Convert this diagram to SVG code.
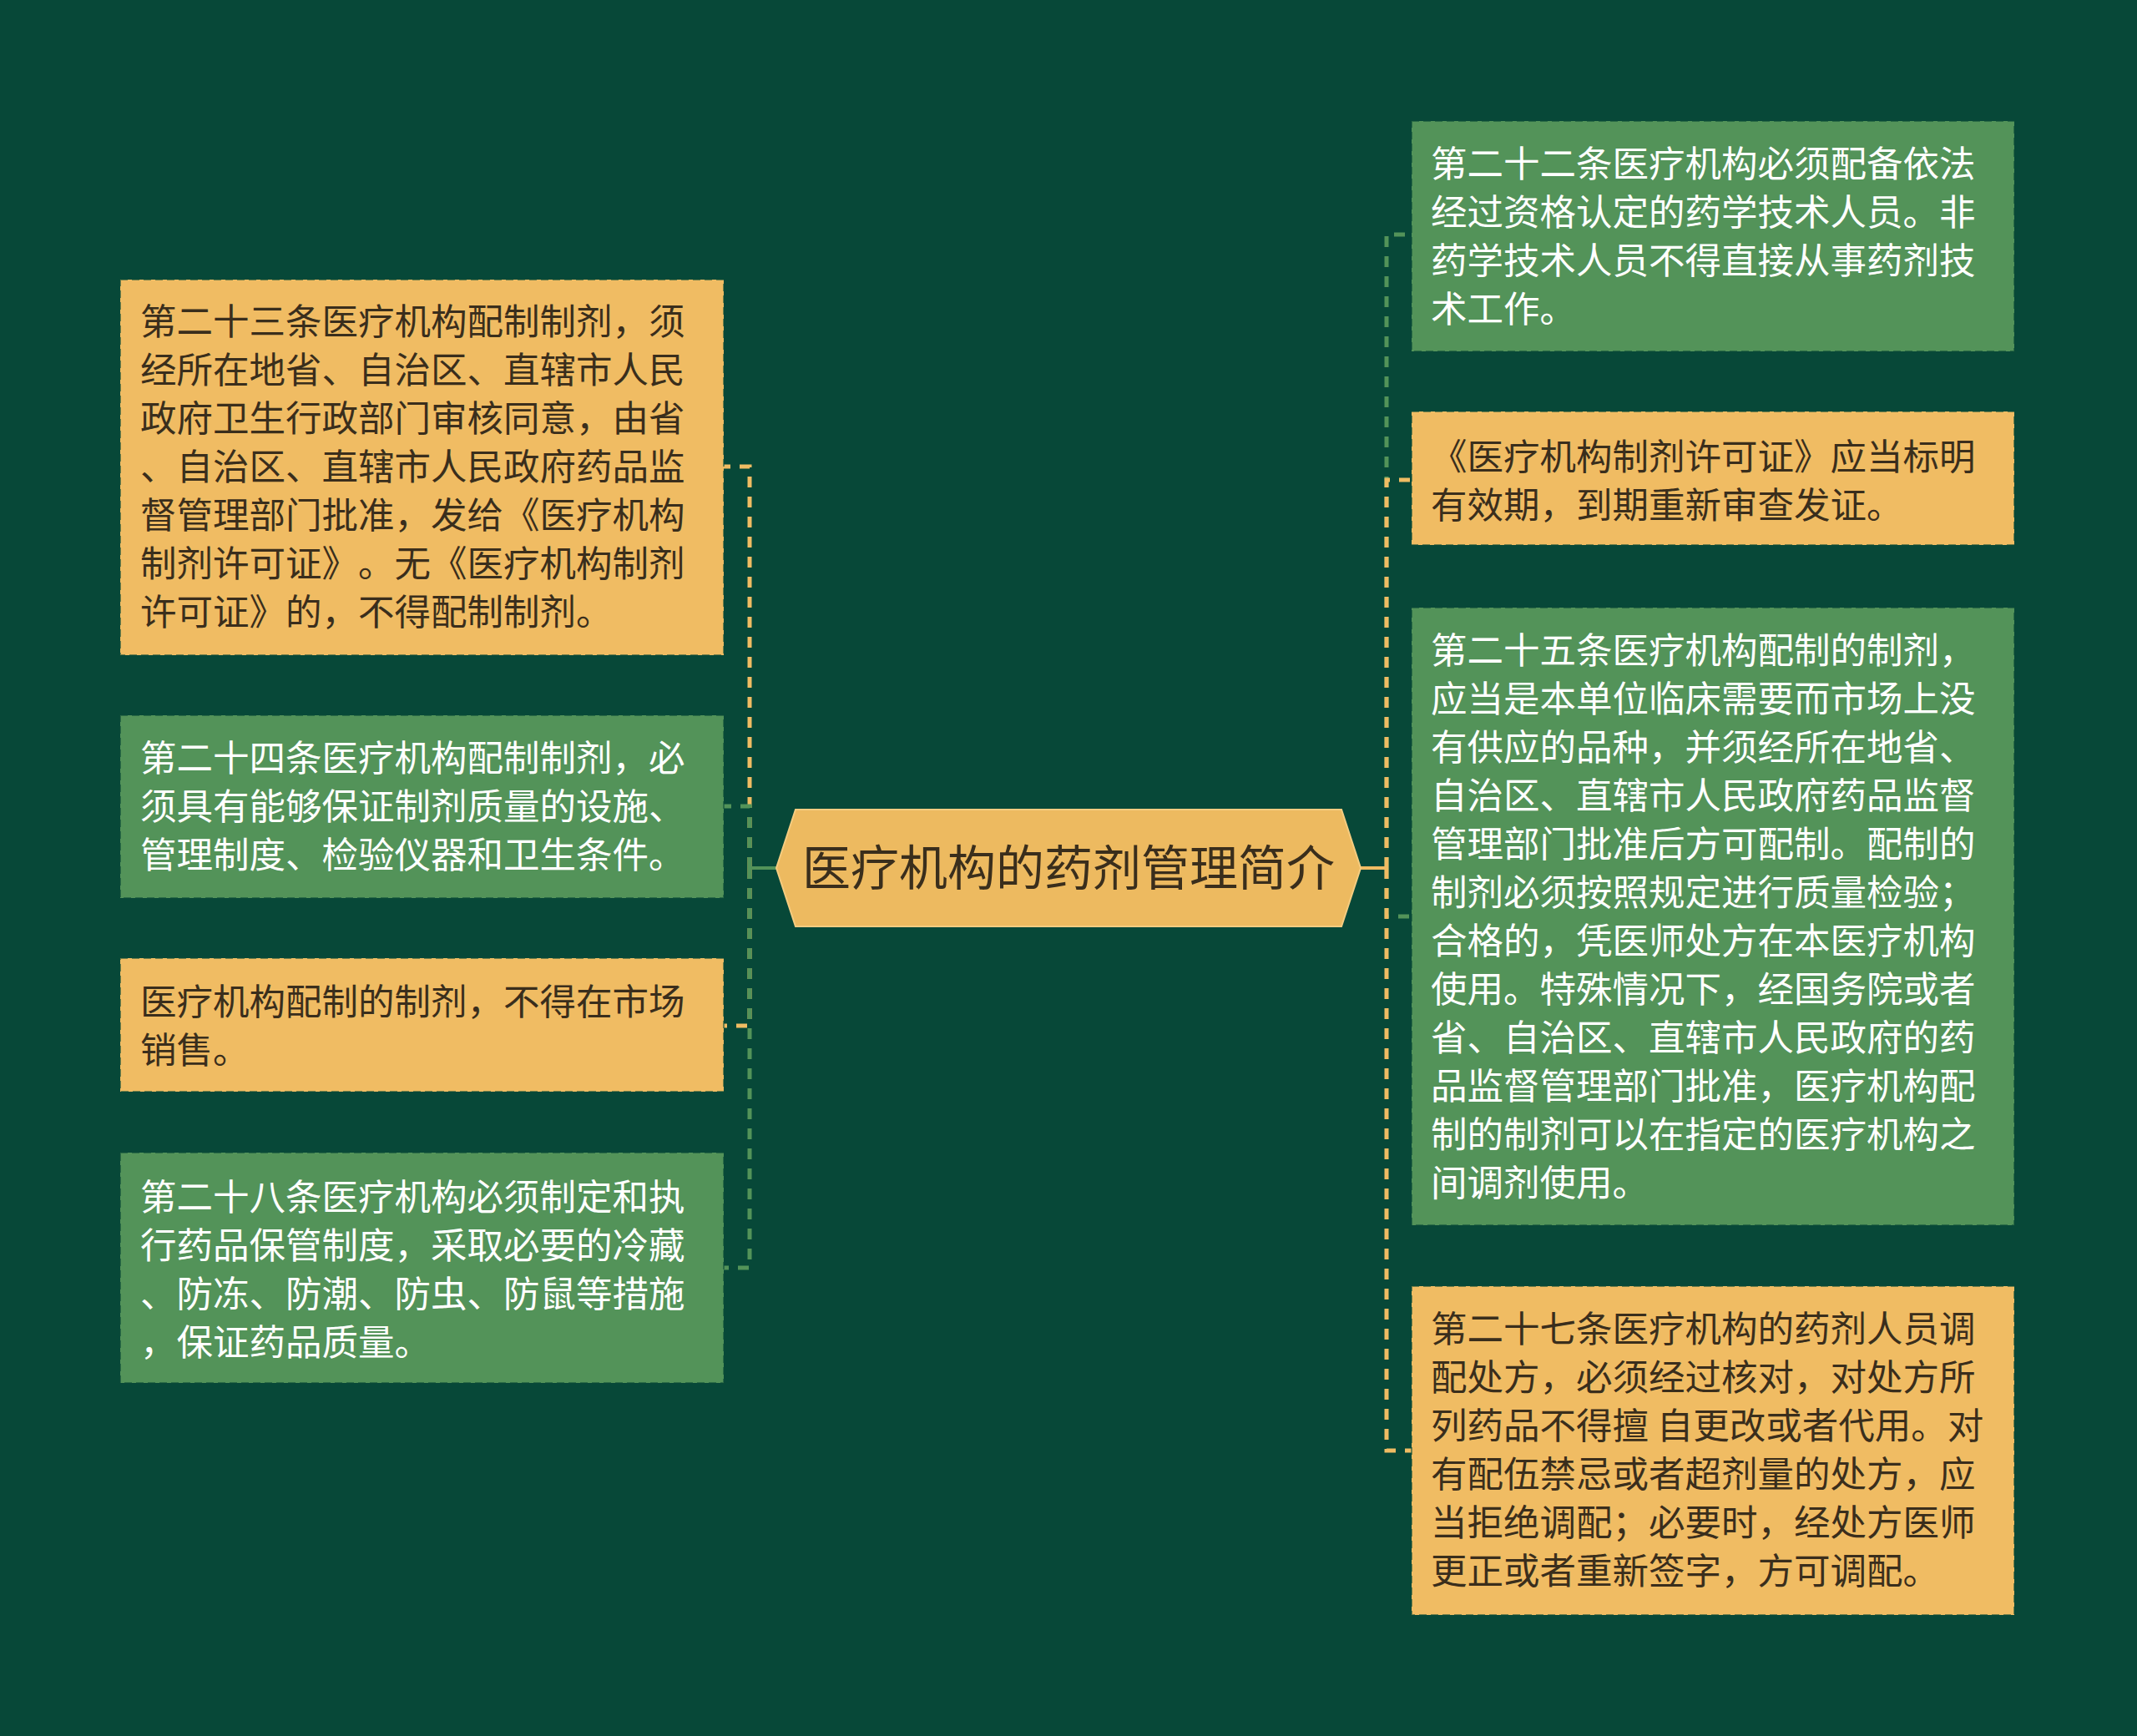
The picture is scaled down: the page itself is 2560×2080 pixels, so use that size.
<svg xmlns="http://www.w3.org/2000/svg" width="2560" height="2080" viewBox="0 0 2560 2080">
<style>
.bg{fill:#074838}
.o{fill:#F0BC63;stroke:#0b4a36;stroke-opacity:0.55;stroke-width:2;stroke-dasharray:9 5}
.g{fill:#539359;stroke:#0b4a36;stroke-opacity:0.55;stroke-width:2;stroke-dasharray:9 5}
text{font-family:"Noto Sans CJK SC","Noto Sans",sans-serif;text-spacing-trim:space-all;font-kerning:none}
.t{font-size:43.5px}
.title{font-size:58px;fill:#3a2e1c}
.td{fill:#3a2e1c}
.tw{fill:#ffffff}
.co{fill:none;stroke:#F0BC63;stroke-width:5;stroke-dasharray:13 11}
.cg{fill:none;stroke:#539359;stroke-width:5;stroke-dasharray:13 11}
</style>
<rect class="bg" x="0" y="0" width="2560" height="2080"/>
<g id="connectors">
<path class="co" d="M898,1040 V559 H867"/>
<path class="cg" d="M898,1040 V966 H867"/>
<path class="co" d="M898,1040 V1229 H867"/>
<path class="cg" d="M898,1040 V1519 H867"/>
<path d="M898,1040 H930" stroke="#539359" stroke-width="4" fill="none"/>
<path class="cg" d="M1661,1040 V281 H1691"/>
<path class="co" d="M1661,1040 V575 H1691"/>
<path class="cg" d="M1661,1040 V1098 H1691"/>
<path class="co" d="M1661,1040 V1738 H1691"/>
<path d="M1630,1040 H1661" stroke="#F0BC63" stroke-width="4" fill="none"/>
</g>
<g id="center">
<polygon points="930,1040 953,970 1607,970 1630,1040 1607,1110 953,1110" fill="#EDBA60" stroke="#F5CC80" stroke-width="2"/>
<text class="title" x="1280" y="1061" text-anchor="middle">医疗机构的药剂管理简介</text>
</g>
<g id="L1">
<rect class="o" x="144" y="335" width="723" height="450"/>
<text class="t td" x="168"><tspan x="168" y="401">第二十三条医疗机构配制制剂，须</tspan><tspan x="168" y="459">经所在地省、自治区、直辖市人民</tspan><tspan x="168" y="517">政府卫生行政部门审核同意，由省</tspan><tspan x="168" y="575">、自治区、直辖市人民政府药品监</tspan><tspan x="168" y="633">督管理部门批准，发给《医疗机构</tspan><tspan x="168" y="691">制剂许可证》。无《医疗机构制剂</tspan><tspan x="168" y="749">许可证》的，不得配制制剂。</tspan></text>
</g>
<g id="L2">
<rect class="g" x="144" y="857" width="723" height="219"/>
<text class="t tw" x="168"><tspan x="168" y="924">第二十四条医疗机构配制制剂，必</tspan><tspan x="168" y="982">须具有能够保证制剂质量的设施、</tspan><tspan x="168" y="1040">管理制度、检验仪器和卫生条件。</tspan></text>
</g>
<g id="L3">
<rect class="o" x="144" y="1148" width="723" height="160"/>
<text class="t td" x="168"><tspan x="168" y="1216">医疗机构配制的制剂，不得在市场</tspan><tspan x="168" y="1274">销售。</tspan></text>
</g>
<g id="L4">
<rect class="g" x="144" y="1381" width="723" height="276"/>
<text class="t tw" x="168"><tspan x="168" y="1450">第二十八条医疗机构必须制定和执</tspan><tspan x="168" y="1508">行药品保管制度，采取必要的冷藏</tspan><tspan x="168" y="1566">、防冻、防潮、防虫、防鼠等措施</tspan><tspan x="168" y="1624">，保证药品质量。</tspan></text>
</g>
<g id="R1">
<rect class="g" x="1691" y="145" width="722" height="276"/>
<text class="t tw" x="1714"><tspan x="1714" y="212">第二十二条医疗机构必须配备依法</tspan><tspan x="1714" y="270">经过资格认定的药学技术人员。非</tspan><tspan x="1714" y="328">药学技术人员不得直接从事药剂技</tspan><tspan x="1714" y="386">术工作。</tspan></text>
</g>
<g id="R2">
<rect class="o" x="1691" y="493" width="722" height="160"/>
<text class="t td" x="1714"><tspan x="1714" y="563">《医疗机构制剂许可证》应当标明</tspan><tspan x="1714" y="621">有效期，到期重新审查发证。</tspan></text>
</g>
<g id="R3">
<rect class="g" x="1691" y="728" width="722" height="740"/>
<text class="t tw" x="1714"><tspan x="1714" y="795">第二十五条医疗机构配制的制剂，</tspan><tspan x="1714" y="853">应当是本单位临床需要而市场上没</tspan><tspan x="1714" y="911">有供应的品种，并须经所在地省、</tspan><tspan x="1714" y="969">自治区、直辖市人民政府药品监督</tspan><tspan x="1714" y="1027">管理部门批准后方可配制。配制的</tspan><tspan x="1714" y="1085">制剂必须按照规定进行质量检验；</tspan><tspan x="1714" y="1143">合格的，凭医师处方在本医疗机构</tspan><tspan x="1714" y="1201">使用。特殊情况下，经国务院或者</tspan><tspan x="1714" y="1259">省、自治区、直辖市人民政府的药</tspan><tspan x="1714" y="1317">品监督管理部门批准，医疗机构配</tspan><tspan x="1714" y="1375">制的制剂可以在指定的医疗机构之</tspan><tspan x="1714" y="1433">间调剂使用。</tspan></text>
</g>
<g id="R4">
<rect class="o" x="1691" y="1541" width="722" height="394"/>
<text class="t td" x="1714"><tspan x="1714" y="1608">第二十七条医疗机构的药剂人员调</tspan><tspan x="1714" y="1666">配处方，必须经过核对，对处方所</tspan><tspan x="1714" y="1724" xml:space="preserve">列药品不得擅 自更改或者代用。对</tspan><tspan x="1714" y="1782">有配伍禁忌或者超剂量的处方，应</tspan><tspan x="1714" y="1840">当拒绝调配；必要时，经处方医师</tspan><tspan x="1714" y="1898">更正或者重新签字，方可调配。</tspan></text>
</g>
</svg>
